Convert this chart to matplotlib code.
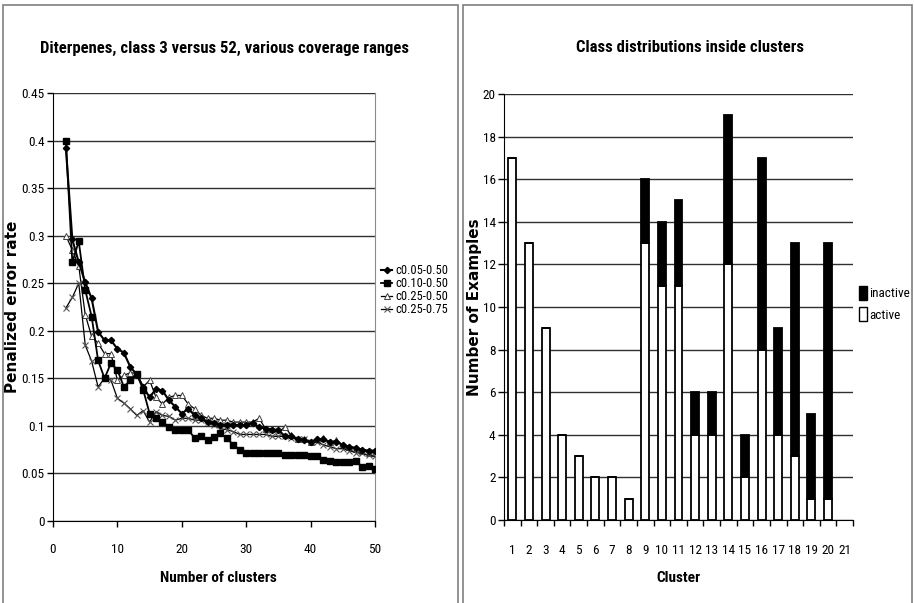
import matplotlib
matplotlib.use("Agg")
import matplotlib.pyplot as plt
from matplotlib import font_manager
from matplotlib.patches import Rectangle, Patch
import numpy as np

# penalized error rate per number of clusters (k = 2..50)
n_clusters = list(range(2, 51))
err_c005_050 = [0.392, 0.296, 0.272, 0.251, 0.234, 0.199, 0.190, 0.190, 0.181, 0.177,
                0.162, 0.154, 0.141, 0.130, 0.139, 0.137, 0.127, 0.120, 0.113, 0.118,
                0.111, 0.108, 0.104, 0.103, 0.101, 0.101, 0.101, 0.101, 0.101, 0.103,
                0.099, 0.097, 0.096, 0.096, 0.089, 0.089, 0.086, 0.085, 0.083, 0.086,
                0.086, 0.083, 0.083, 0.080, 0.078, 0.077, 0.075, 0.074, 0.074]
err_c010_050 = [0.400, 0.272, 0.294, 0.243, 0.215, 0.169, 0.150, 0.166, 0.159, 0.141,
                0.148, 0.155, 0.138, 0.113, 0.108, 0.104, 0.099, 0.096, 0.096, 0.096,
                0.087, 0.089, 0.085, 0.088, 0.092, 0.087, 0.080, 0.075, 0.072, 0.072,
                0.072, 0.072, 0.072, 0.072, 0.069, 0.069, 0.069, 0.069, 0.068, 0.068,
                0.064, 0.063, 0.062, 0.062, 0.062, 0.063, 0.057, 0.058, 0.055]
err_c025_050 = [0.300, 0.285, 0.268, 0.217, 0.194, 0.187, 0.176, 0.176, 0.148, 0.153,
                0.156, 0.155, 0.141, 0.148, 0.130, 0.123, 0.130, 0.132, 0.132, 0.123,
                0.118, 0.111, 0.108, 0.108, 0.106, 0.106, 0.104, 0.104, 0.104, 0.104,
                0.108, 0.097, 0.097, 0.093, 0.099, 0.090, 0.086, 0.086, 0.083, 0.086,
                0.087, 0.083, 0.085, 0.080, 0.078, 0.076, 0.074, 0.072, 0.072]
err_c025_075 = [0.224, 0.235, 0.250, 0.185, 0.168, 0.141, 0.150, 0.148, 0.129, 0.124,
                0.118, 0.111, 0.116, 0.104, 0.115, 0.111, 0.110, 0.106, 0.108, 0.108,
                0.106, 0.106, 0.104, 0.101, 0.097, 0.096, 0.094, 0.091, 0.091, 0.091,
                0.091, 0.091, 0.089, 0.089, 0.089, 0.087, 0.086, 0.086, 0.083, 0.083,
                0.080, 0.078, 0.076, 0.076, 0.074, 0.072, 0.071, 0.069, 0.068]

# class counts per cluster
clusters = [str(i) for i in range(1, 22)]
active = [17, 13, 9, 4, 3, 2, 2, 1, 13, 11, 11, 4, 4, 12, 2, 8, 4, 3, 1, 1]
inactive = [0, 0, 0, 0, 0, 0, 0, 0, 3, 3, 4, 2, 2, 7, 2, 9, 5, 10, 4, 12]


def narrow_font():
    fonts = font_manager.fontManager.ttflist
    names = {f.name for f in fonts}
    for n in ["Liberation Sans Narrow", "DejaVu Sans Condensed", "Roboto Condensed"]:
        if n in names:
            return {"family": n}
    for f in fonts:
        if f.name == "DejaVu Sans" and "ondensed" in str(f.stretch) + f.fname:
            return {"family": "DejaVu Sans", "stretch": "condensed"}
    return {"family": "DejaVu Sans"}


def narrow_ticks(axis):
    for t in axis.get_xticklabels() + axis.get_yticklabels():
        t.set_fontfamily(NF["family"])
        if "stretch" in NF:
            t.set_fontstretch(NF["stretch"])


NF = narrow_font()
W, H = 914, 603
fig = plt.figure(figsize=(W / 100, H / 100), dpi=100)


def px_axes(left, top, right, bottom):
    return fig.add_axes([left / W, 1 - bottom / H, (right - left) / W, (bottom - top) / H])


def px_text(x, y, s, **kw):
    fig.text(x / W, 1 - y / H, s, ha="center", va="center", **kw)


# panel frames
for x0, x1 in [(3, 458), (463, 912)]:
    fig.patches.append(Rectangle((x0 / W, -0.05), (x1 - x0) / W, 1.05 - 5 / H,
                                 transform=fig.transFigure, fill=False,
                                 edgecolor="#7f7f7f", lw=1.2))

grid_kw = dict(color="#303030", lw=1.0)

# ---- left: error rate curves
ax = px_axes(53, 93, 375, 521)
ax.plot(n_clusters, err_c005_050, color="black", lw=1.5, marker="D", ms=3.2,
        label="c0.05-0.50", zorder=4)
ax.plot(n_clusters, err_c010_050, color="black", lw=1.3, marker="s", ms=5,
        label="c0.10-0.50", zorder=5)
ax.plot(n_clusters, err_c025_050, color="black", lw=0.9, marker="^", ms=5,
        mfc="white", mec="#404040", mew=0.7, label="c0.25-0.50", zorder=3)
ax.plot(n_clusters, err_c025_075, color="black", lw=0.9, marker="x", ms=4,
        mec="#555555", mew=0.8, label="c0.25-0.75", zorder=3)
ax.set_xlim(0, 50)
ax.set_ylim(0, 0.45)
ax.set_xticks(range(0, 51, 10))
ax.set_yticks(np.arange(0, 0.451, 0.05))
ax.set_yticklabels(["0", "0.05", "0.1", "0.15", "0.2", "0.25", "0.3", "0.35", "0.4", "0.45"])
ax.yaxis.grid(True, **grid_kw)
ax.set_axisbelow(True)
ax.spines["top"].set_visible(False)
ax.spines["right"].set_color("#8c8c8c")
ax.tick_params(direction="out", length=4, width=1, labelsize=9.5)
ax.tick_params(axis="x", pad=12)
ax.tick_params(axis="y", pad=2)
narrow_ticks(ax)
ax.set_ylabel("Penalized error rate", fontsize=11, fontweight="bold")
ax.yaxis.set_label_coords((20 - 53) / 322, 0.5)
ax.legend(loc="upper left", bbox_to_anchor=(381 / W, 1 - 264 / H),
          bbox_transform=fig.transFigure, frameon=False, borderpad=0, borderaxespad=0,
          handlelength=0.9, handletextpad=0.25, labelspacing=0.0,
          prop=dict(size=9, **NF))
px_text(225, 48, "Diterpenes, class 3 versus 52, various coverage ranges",
        fontsize=12, fontweight="bold", **NF)
px_text(218, 578, "Number of clusters", fontsize=11, fontweight="bold", **NF)

# ---- right: stacked class counts
ax2 = px_axes(504, 94, 853, 520)
pos = np.arange(1, len(active) + 1)
ax2.bar(pos, active, width=0.48, color="white", edgecolor="black", lw=1.3,
        label="active", zorder=3)
ax2.bar(pos, inactive, width=0.48, bottom=active, color="black", edgecolor="black",
        lw=1.3, label="inactive", zorder=3)
ax2.set_xlim(0.5, len(clusters) + 0.5)
ax2.set_ylim(0, 20)
ax2.set_yticks(range(0, 21, 2))
ax2.set_xticks(range(1, len(clusters) + 1))
ax2.set_xticklabels(clusters)
ax2.set_xticks(np.arange(0.5, len(clusters) + 1, 1), minor=True)
ax2.tick_params(axis="x", which="major", length=0, pad=17)
ax2.tick_params(axis="x", which="minor", direction="out", length=4, width=1)
ax2.tick_params(axis="y", direction="out", length=4, width=1, pad=2)
ax2.tick_params(labelsize=9.5)
narrow_ticks(ax2)
ax2.yaxis.grid(True, **grid_kw)
ax2.set_axisbelow(True)
ax2.spines["top"].set_visible(False)
ax2.spines["right"].set_visible(False)
ax2.set_ylabel("Number of Examples", fontsize=11, fontweight="bold")
ax2.yaxis.set_label_coords((482 - 504) / 349, 0.5)
handles = [Patch(facecolor="black", edgecolor="black", label="inactive"),
           Patch(facecolor="white", edgecolor="black", label="active")]
ax2.legend(handles=handles, loc="upper left", bbox_to_anchor=(859 / W, 1 - 286 / H),
           bbox_transform=fig.transFigure, frameon=False, borderpad=0, borderaxespad=0,
           handlelength=0.6, handleheight=1.2, handletextpad=0.2, labelspacing=0.55,
           prop=dict(size=9.5, **NF))
px_text(690, 48, "Class distributions inside clusters", fontsize=12, fontweight="bold", **NF)
px_text(678, 578, "Cluster", fontsize=11, fontweight="bold", **NF)

fig.savefig("out.png", dpi=100)
